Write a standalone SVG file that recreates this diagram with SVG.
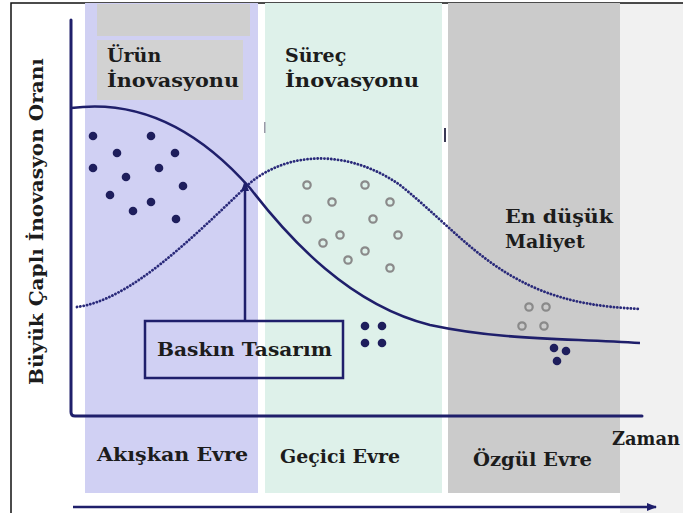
<svg xmlns="http://www.w3.org/2000/svg" width="683" height="513" viewBox="0 0 683 513">
<style>
.lbl{font-family:"DejaVu Serif","Liberation Serif",serif;font-weight:bold;fill:#1c1c1c;}
.ax{stroke:#1f1f6b;stroke-width:3;fill:none;stroke-linecap:round;}
.dot{fill:#1e1e5c;}
.ring{fill:none;stroke:#8a8a8a;stroke-width:2.2;}
</style>
<defs>
<marker id="ah" markerWidth="10" markerHeight="10" refX="9" refY="5" orient="auto" markerUnits="userSpaceOnUse">
<path d="M0,1 L10,5 L0,9 Z" fill="#1f1f6b"/>
</marker>
</defs>
<rect x="0" y="0" width="683" height="513" fill="#ffffff"/>
<rect x="620" y="3" width="63" height="510" fill="#f1f1f1"/>
<path d="M11,513 L11,3 L683,3" fill="none" stroke="#111" stroke-width="1.5"/>

<g id="bands">
<rect x="85" y="3" width="173" height="490" fill="#d0d0f3"/>
<rect x="97" y="4" width="153" height="32" fill="#cfcfcf"/>
<rect x="97" y="40" width="146" height="60" fill="#d2d2d2"/>
<rect x="265" y="3" width="177" height="490" fill="#def1ea"/>
<rect x="448" y="3" width="172" height="490" fill="#cbcbcb"/>
<rect x="264" y="122" width="1.5" height="11" fill="#9a9aa8"/>
<rect x="444" y="128" width="2" height="14" fill="#3a3a55"/>
</g>

<g id="axes">
<path class="ax" d="M71,20 L71,412 Q71,416 75,416 L642,416"/>
<line x1="73" y1="507" x2="656" y2="507" stroke="#1f1f6b" stroke-width="2.5" marker-end="url(#ah)"/>
</g>

<g id="connectors">
<path d="M71,108 C130,100 190,120 250,188 C290,240 350,305 430,325 C500,340 560,338 640,343" fill="none" stroke="#1f1f6b" stroke-width="2.5"/>
<path d="M77,307 C130,300 190,240 250,183 C290,150 350,150 400,185 C450,225 480,265 540,290 C570,302 600,307 640,309" fill="none" stroke="#2a2a7a" stroke-width="2.8" stroke-dasharray="0.1 3.3" stroke-linecap="round"/>
<line x1="245" y1="320" x2="245" y2="182" stroke="#1f1f6b" stroke-width="2.5" marker-end="url(#ah)"/>
</g>

<g id="dots-fluid">
<circle class="dot" cx="93" cy="136" r="4.3"/>
<circle class="dot" cx="151" cy="136" r="4.3"/>
<circle class="dot" cx="117" cy="153" r="4.3"/>
<circle class="dot" cx="175" cy="153" r="4.3"/>
<circle class="dot" cx="93" cy="168" r="4.3"/>
<circle class="dot" cx="126" cy="177" r="4.3"/>
<circle class="dot" cx="159" cy="168" r="4.3"/>
<circle class="dot" cx="183" cy="186" r="4.3"/>
<circle class="dot" cx="110" cy="195" r="4.3"/>
<circle class="dot" cx="151" cy="202" r="4.3"/>
<circle class="dot" cx="133" cy="211" r="4.3"/>
<circle class="dot" cx="176" cy="219" r="4.3"/>
</g>

<g id="dots-transitional">
<circle class="ring" cx="307" cy="185" r="3.7"/>
<circle class="ring" cx="365" cy="185" r="3.7"/>
<circle class="ring" cx="332" cy="202" r="3.7"/>
<circle class="ring" cx="390" cy="202" r="3.7"/>
<circle class="ring" cx="307" cy="219" r="3.7"/>
<circle class="ring" cx="373" cy="219" r="3.7"/>
<circle class="ring" cx="340" cy="235" r="3.7"/>
<circle class="ring" cx="398" cy="235" r="3.7"/>
<circle class="ring" cx="323" cy="243" r="3.7"/>
<circle class="ring" cx="365" cy="251" r="3.7"/>
<circle class="ring" cx="348" cy="260" r="3.7"/>
<circle class="ring" cx="390" cy="268" r="3.7"/>
<circle class="dot" cx="365" cy="326" r="4.3"/>
<circle class="dot" cx="382" cy="326" r="4.3"/>
<circle class="dot" cx="365" cy="343" r="4.3"/>
<circle class="dot" cx="382" cy="343" r="4.3"/>
</g>

<g id="dots-specific">
<circle class="ring" cx="529" cy="307" r="3.7"/>
<circle class="ring" cx="546" cy="307" r="3.7"/>
<circle class="ring" cx="522" cy="326" r="3.7"/>
<circle class="ring" cx="544" cy="326" r="3.7"/>
<circle class="dot" cx="554" cy="348" r="4.3"/>
<circle class="dot" cx="566" cy="351" r="4.3"/>
<circle class="dot" cx="557" cy="361" r="4.3"/>
</g>

<g id="node-urun">
<text class="lbl" font-size="19" x="107" y="62">Ürün</text>
<text class="lbl" font-size="19" x="107" y="87" textLength="132" lengthAdjust="spacingAndGlyphs">İnovasyonu</text>
</g>
<g id="node-surec">
<text class="lbl" font-size="19" x="285" y="62">Süreç</text>
<text class="lbl" font-size="19" x="285" y="87" textLength="134" lengthAdjust="spacingAndGlyphs">İnovasyonu</text>
</g>
<g id="node-maliyet">
<text class="lbl" font-size="19" x="505" y="223" textLength="108" lengthAdjust="spacingAndGlyphs">En düşük</text>
<text class="lbl" font-size="19" x="505" y="248">Maliyet</text>
</g>
<g id="node-baskin">
<rect x="145" y="321" width="198" height="57" fill="none" stroke="#1f1f6b" stroke-width="2.5"/>
<text class="lbl" font-size="19" x="157" y="356" textLength="175" lengthAdjust="spacingAndGlyphs">Baskın Tasarım</text>
</g>
<g id="node-yaxis">
<text class="lbl" font-size="18" transform="translate(43,385) rotate(-90)" x="0" y="0" textLength="327" lengthAdjust="spacingAndGlyphs">Büyük Çaplı İnovasyon Oranı</text>
</g>
<g id="node-phases">
<text class="lbl" font-size="19" x="97" y="461" textLength="151" lengthAdjust="spacingAndGlyphs">Akışkan Evre</text>
<text class="lbl" font-size="19" x="280" y="463" textLength="120" lengthAdjust="spacingAndGlyphs">Geçici Evre</text>
<text class="lbl" font-size="19" x="473" y="466" textLength="119" lengthAdjust="spacingAndGlyphs">Özgül Evre</text>
<text class="lbl" font-size="18" x="612" y="445" textLength="68" lengthAdjust="spacingAndGlyphs">Zaman</text>
</g>
</svg>
